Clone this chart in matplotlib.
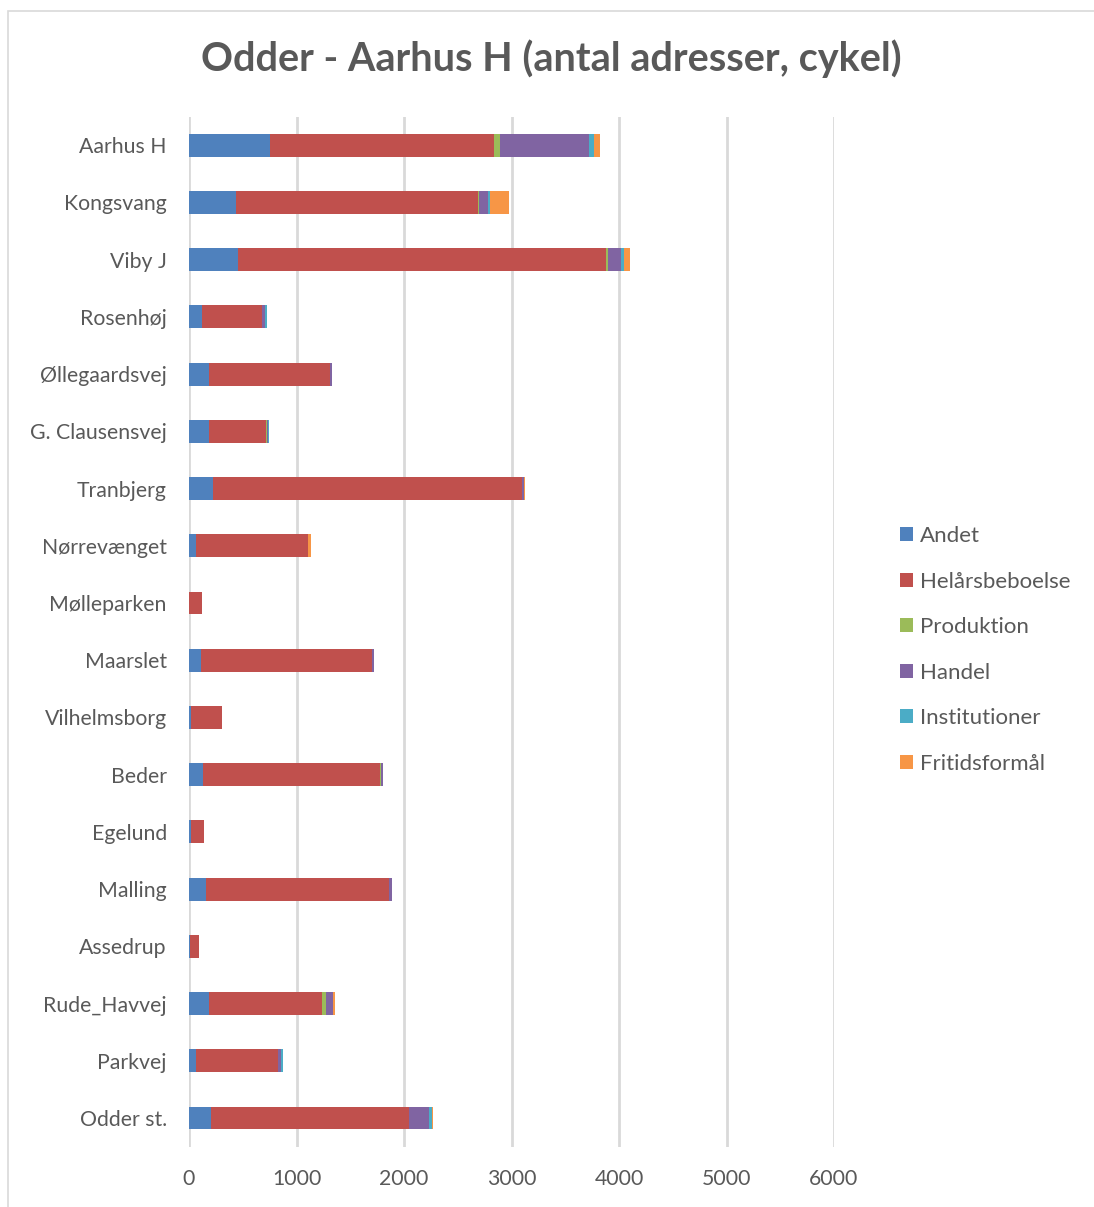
import matplotlib.pyplot as plt
import numpy as np
from matplotlib.patches import Rectangle

plt.rcParams['font.family'] = ['Lato', 'DejaVu Sans']

stations = ['Aarhus H', 'Kongsvang', 'Viby J', 'Rosenhøj', 'Øllegaardsvej',
            'G. Clausensvej', 'Tranbjerg', 'Nørrevænget', 'Mølleparken', 'Maarslet',
            'Vilhelmsborg', 'Beder', 'Egelund', 'Malling', 'Assedrup',
            'Rude_Havvej', 'Parkvej', 'Odder st.']

categories = ['Andet', 'Helårsbeboelse', 'Produktion', 'Handel', 'Institutioner', 'Fritidsformål']
colors = ['#4F81BD', '#C0504D', '#9BBB59', '#8064A2', '#4BACC6', '#F79646']

andet = [758, 441, 460, 121, 190, 190, 224, 69, 3, 109, 16, 130, 16, 162, 7, 190, 65, 205]
helaars = [2079, 2247, 3423, 556, 1123, 524, 2877, 1042, 118, 1592, 291, 1646, 124, 1701, 86, 1048, 764, 1843]
produktion = [53, 9, 13, 6, 2, 10, 0, 0, 0, 0, 0, 9, 2, 0, 0, 41, 3, 0]
handel = [835, 87, 126, 28, 14, 15, 12, 0, 0, 22, 0, 22, 2, 27, 0, 62, 28, 181]
institutioner = [43, 16, 23, 15, 3, 5, 0, 0, 0, 0, 0, 0, 0, 0, 0, 2, 15, 28]
fritid = [56, 177, 58, 0, 0, 0, 10, 25, 0, 0, 0, 0, 0, 0, 0, 14, 0, 9]

series = [andet, helaars, produktion, handel, institutioner, fritid]

fig = plt.figure(figsize=(10.94, 12.07), dpi=100)
ax = fig.add_axes([189 / 1094, 60.4 / 1207, 645 / 1094, 1030 / 1207])

# chart border (Excel style)
fig.patches.append(Rectangle((8 / 1094, -0.01), 1.1, 1 - 11 / 1207 + 0.01,
                             transform=fig.transFigure, fill=False,
                             edgecolor='#D9D9D9', linewidth=1.2))

y = np.arange(len(stations))
left = np.zeros(len(stations))
for vals, name, c in zip(series, categories, colors):
    ax.barh(y, vals, left=left, height=0.4, color=c, label=name, zorder=3)
    left += np.array(vals)

ax.set_xlim(0, 6000)
ax.set_ylim(len(stations) - 0.5, -0.5)
ax.set_yticks(y)
ax.set_yticklabels(stations)
ax.set_xticks(np.arange(0, 7000, 1000))
ax.grid(axis='x', color='#D9D9D9', linewidth=2, zorder=0)
ax.set_axisbelow(True)
for s in ax.spines.values():
    s.set_visible(False)
ax.tick_params(length=0, labelsize=15.3, colors='#595959')
ax.tick_params(axis='y', pad=16)
ax.tick_params(axis='x', pad=16)

fig.text(0.504, 0.951, 'Odder - Aarhus H (antal adresser, cykel)',
         ha='center', va='center', fontsize=28.5, fontweight='bold', color='#595959')

leg = fig.legend(loc='upper left', bbox_to_anchor=(880 / 1094, 1 - 506 / 1207),
                 frameon=False, fontsize=16, labelspacing=1.15,
                 handlelength=0.6, handleheight=0.6, handletextpad=0.3)
for t in leg.get_texts():
    t.set_color('#595959')

fig.savefig('out.png', dpi=100, facecolor='white')
